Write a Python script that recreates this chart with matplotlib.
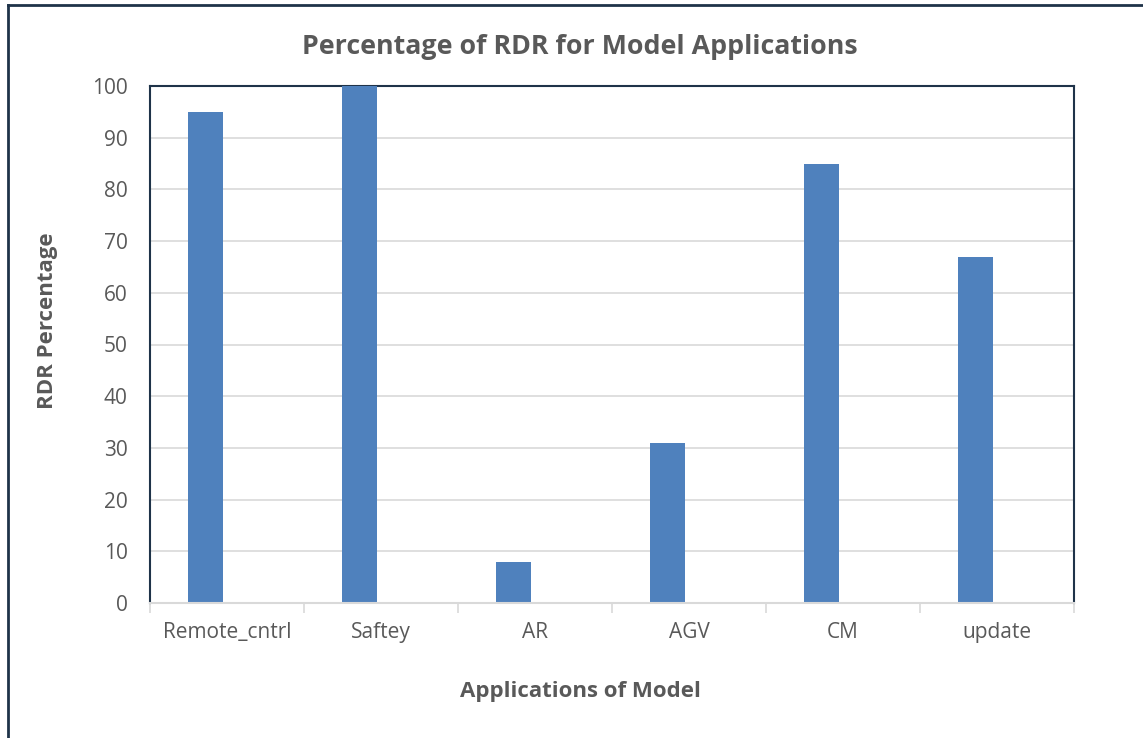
import numpy as np
import matplotlib.pyplot as plt
from matplotlib.lines import Line2D

categories = ['Remote_cntrl', 'Saftey', 'AR', 'AGV', 'CM', 'update']
rdr_pct = [95, 100, 8, 31, 85, 67]
y_ticks = [0, 10, 20, 30, 40, 50, 60, 70, 80, 90, 100]

plt.rcParams['font.family'] = ['Open Sans', 'DejaVu Sans']
text_col = '#595959'
frame_col = '#1f3349'

fig = plt.figure(figsize=(11.43, 7.38), dpi=100)
W, H = 1143, 738
ax = fig.add_axes([150 / W, 1 - 603 / H, 924 / W, 517 / H])

x = np.arange(len(categories))
ax.bar(x - 0.142, rdr_pct, width=0.227, color='#4f81bd', zorder=3)

ax.set_xlim(-0.5, len(categories) - 0.5)
ax.set_ylim(0, 100)
ax.set_yticks(y_ticks)
ax.set_xticks(x)
ax.set_xticklabels(categories)
ax.set_xticks(np.arange(len(categories) + 1) - 0.5, minor=True)
ax.tick_params(axis='x', which='major', length=0, pad=14, labelsize=15, labelcolor=text_col)
ax.tick_params(axis='x', which='minor', length=7, color='#d9d9d9', width=1.2)
ax.tick_params(axis='y', length=0, pad=16, labelsize=15, labelcolor=text_col)
ax.grid(axis='y', color='#d9d9d9', linewidth=1.2, zorder=0)

for side in ['left', 'top', 'right']:
    ax.spines[side].set_color(frame_col)
    ax.spines[side].set_linewidth(1.5)
ax.spines['bottom'].set_color('#d9d9d9')
ax.spines['bottom'].set_linewidth(1.5)
ax.spines['bottom'].set_zorder(4)

# titles are centred on the whole chart area, not on the plot area
fig.text(580 / W, 1 - 47 / H, 'Percentage of RDR for Model Applications', fontsize=19.3,
         fontweight='bold', color=text_col, ha='center', va='center')
fig.text(48 / W, 1 - 321 / H, 'RDR Percentage', fontsize=16, fontweight='bold',
         color=text_col, ha='center', va='center', rotation=90)
fig.text(580 / W, 1 - 691 / H, 'Applications of Model', fontsize=16, fontweight='bold',
         color=text_col, ha='center', va='center')

# outer chart frame (left and top edges only visible)
fig.add_artist(Line2D([8 / W, 8 / W], [0, 1 - 5 / H], color=frame_col, linewidth=2))
fig.add_artist(Line2D([8 / W, 1], [1 - 5 / H, 1 - 5 / H], color=frame_col, linewidth=2))

fig.savefig('out.png', dpi=100)
